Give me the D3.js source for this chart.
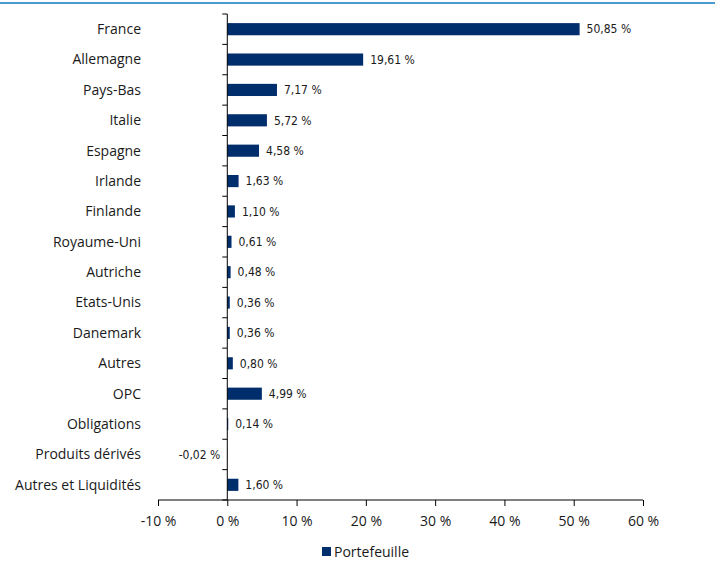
<!DOCTYPE html>
<html>
<head>
<meta charset="utf-8">
<script src="https://cdn.jsdelivr.net/npm/d3@7"></script>
<style>
  body { margin: 0; background: #fff; }
  svg text { fill: #1a1a1a; }
</style>
</head>
<body>
<div id="chart"></div>
<script>
// Categories and portfolio weights (%)
const pays = ["France", "Allemagne", "Pays-Bas", "Italie", "Espagne", "Irlande", "Finlande",
  "Royaume-Uni", "Autriche", "Etats-Unis", "Danemark", "Autres", "OPC", "Obligations",
  "Produits dérivés", "Autres et Liquidités"];
const poids = [50.85, 19.61, 7.17, 5.72, 4.58, 1.63, 1.10, 0.61, 0.48, 0.36, 0.36, 0.80,
  4.99, 0.14, -0.02, 1.60];
const xTicks = [-10, 0, 10, 20, 30, 40, 50, 60];
const serieName = "Portefeuille";

const width = 723, height = 562;
const margin = { top: 14, right: 80, bottom: 62, left: 158 };
const barColor = "#002d6b";

const svg = d3.select("#chart").append("svg")
  .attr("width", width)
  .attr("height", height);

// blue rule at the top
svg.append("line")
  .attr("x1", 0).attr("x2", 715)
  .attr("y1", 3).attr("y2", 3)
  .attr("stroke", "#0b78c2")
  .attr("stroke-width", 1.5);

const x = d3.scaleLinear()
  .domain([-10, 60])
  .range([158, 643]);

const y = d3.scaleBand()
  .domain(pays)
  .range([14, 500])
  .paddingInner(0.6)
  .paddingOuter(0.3);

const fmt = v => v.toFixed(2).replace(".", ",") + " %";

// bars
svg.selectAll("rect.bar")
  .data(poids)
  .enter().append("rect")
  .attr("class", "bar")
  .attr("x", d => x(Math.min(0, d)))
  .attr("y", (d, i) => y(pays[i]))
  .attr("width", d => Math.abs(x(d) - x(0)))
  .attr("height", y.bandwidth())
  .attr("fill", barColor);

// value labels
svg.selectAll("text.val")
  .data(poids)
  .enter().append("text")
  .attr("class", "val")
  .attr("x", d => d < 0 ? x(0) - 7 : x(d) + 7)
  .attr("y", (d, i) => y(pays[i]) + y.bandwidth() / 2)
  .attr("dy", "0.35em")
  .attr("text-anchor", d => d < 0 ? "end" : "start")
  .style("font-family", "'DejaVu Sans Condensed', 'DejaVu Sans', sans-serif")
  .style("font-size", "12px")
  .text(fmt);

// y axis at zero with ticks between categories
const step = y.step();
const yAxis = svg.append("g");
yAxis.append("line")
  .attr("x1", x(0)).attr("x2", x(0))
  .attr("y1", 14).attr("y2", 500)
  .attr("stroke", "#000");
yAxis.selectAll("line.tk")
  .data(d3.range(pays.length + 1))
  .enter().append("line")
  .attr("class", "tk")
  .attr("x1", x(0) - 5).attr("x2", x(0))
  .attr("y1", i => 14 + i * step)
  .attr("y2", i => 14 + i * step)
  .attr("stroke", "#000");

// category labels
svg.selectAll("text.cat")
  .data(pays)
  .enter().append("text")
  .attr("class", "cat")
  .attr("x", 141)
  .attr("y", d => y(d) + y.bandwidth() / 2)
  .attr("dy", "0.35em")
  .attr("text-anchor", "end")
  .style("font-family", "'Open Sans', sans-serif")
  .style("font-size", "14px")
  .text(d => d);

// x axis
const xAxis = svg.append("g")
  .attr("transform", "translate(0,500)")
  .call(d3.axisBottom(x).tickValues(xTicks).tickSize(6).tickFormat(d => d + " %"));
xAxis.select(".domain").attr("stroke", "#000").attr("d", `M${x(-10)},0H${x(60)}`);
xAxis.selectAll(".tick line").attr("stroke", "#000");
xAxis.selectAll(".tick text")
  .attr("y", 16)
  .style("font-family", "'Open Sans', sans-serif")
  .style("font-size", "14px")
  .attr("fill", "#1a1a1a");

// legend
const legend = svg.append("g").attr("transform", "translate(322,547)");
legend.append("rect")
  .attr("width", 9).attr("height", 9)
  .attr("fill", barColor);
legend.append("text")
  .attr("x", 12).attr("y", 5)
  .attr("dy", "0.35em")
  .style("font-family", "'Open Sans', sans-serif")
  .style("font-size", "14px")
  .text(serieName);
</script>
</body>
</html>
